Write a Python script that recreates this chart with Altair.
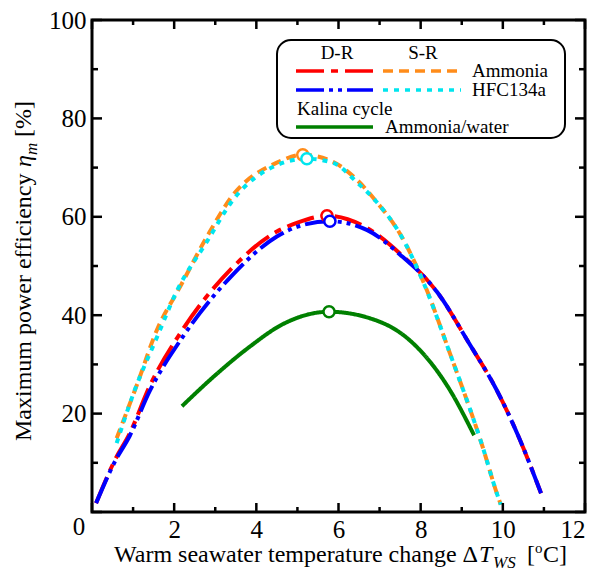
import altair as alt
import pandas as pd

# ---------------- data ----------------
dr_amm_x = [0.1, 0.56, 0.92, 1.4, 2.2, 3.4, 4.5, 5.0, 5.72, 6.7, 7.5, 8.4, 9.2, 9.85, 10.4, 10.93]
dr_amm_y = [1.8, 10.6, 16.0, 25.5, 37.0, 49.5, 57.0, 58.8, 60.2, 57.7, 52.5, 44.7, 34.0, 24.8, 15.0, 3.8]

dr_hfc_x = [0.1, 0.56, 0.92, 1.4, 2.2, 3.4, 4.5, 5.0, 5.79, 6.7, 7.5, 8.4, 9.2, 9.85, 10.4, 10.93]
dr_hfc_y = [1.8, 10.3, 15.5, 24.5, 35.5, 48.0, 56.0, 58.0, 59.1, 57.3, 52.3, 44.7, 34.0, 24.8, 15.0, 3.8]

sr_amm_x = [0.6, 1.1, 1.58, 2.14, 2.8, 3.43, 4.5, 5.13, 5.86, 6.45, 6.93, 7.5, 8.1, 8.71, 9.51, 9.85, 9.95]
sr_amm_y = [15.0, 26.0, 37.0, 45.7, 56.0, 64.4, 71.0, 72.6, 71.2, 67.5, 63.0, 56.5, 46.1, 32.3, 13.2, 3.9, 1.5]

sr_hfc_x = [0.6, 1.05, 1.58, 2.07, 2.8, 3.43, 4.5, 5.23, 5.86, 6.45, 6.93, 7.5, 8.1, 8.71, 9.51, 9.85, 9.95]
sr_hfc_y = [14.0, 25.0, 35.5, 45.0, 55.0, 63.4, 70.5, 71.8, 71.0, 67.0, 63.0, 56.5, 46.0, 32.3, 13.2, 3.9, 1.5]

kal_x = [2.19, 3.0, 3.84, 4.65, 5.77, 7.08, 7.9, 8.71, 9.3]
kal_y = [21.5, 27.8, 33.6, 38.2, 40.7, 38.4, 33.6, 24.8, 15.6]

peak_series = ["sr_amm", "sr_hfc", "dr_amm", "dr_hfc", "kal"]
peak_x = [5.13, 5.23, 5.72, 5.79, 5.77]
peak_y = [72.6, 71.8, 60.2, 59.1, 40.7]

x_major = [0, 2, 4, 6, 8, 10, 12]
x_minor = [1, 3, 5, 7, 9, 11]
y_major = [0, 20, 40, 60, 80, 100]
y_minor = [10, 30, 50, 70, 90]
x_labels = [2, 4, 6, 8, 10, 12]
y_labels = [20, 40, 60, 80, 100]

colors = {"dr_amm": "#ff0000", "dr_hfc": "#0000ff", "sr_amm": "#ff8c1a",
          "sr_hfc": "#00e5ee", "kal": "#008000"}
dashes = {"dr_amm": [28, 7, 7, 7], "dr_hfc": [28, 5, 4, 5, 4, 5],
          "sr_amm": [10, 6], "sr_hfc": [5, 6], "kal": [1, 0]}

# ---------------- layout ----------------
W, H = 493, 492
FONT = "Liberation Serif"
xs = alt.Scale(domain=[0, 12], nice=False, zero=False)
ys = alt.Scale(domain=[0, 100], nice=False, zero=False)
xaxis = alt.Axis(values=x_labels, ticks=False, domain=False, grid=False, title=None,
                 labelFont=FONT, labelFontSize=25, labelColor="black", labelPadding=5)
yaxis = alt.Axis(values=y_labels, ticks=False, domain=False, grid=False, title=None,
                 labelFont=FONT, labelFontSize=25, labelColor="black", labelPadding=6)

def X(f):
    return alt.X(f, type="quantitative", scale=xs, axis=xaxis)

def Y(f):
    return alt.Y(f, type="quantitative", scale=ys, axis=yaxis)

def series_df(name, xv, yv):
    return pd.DataFrame({"x": xv, "y": yv, "s": name})

layers = []
for name, xv, yv in [("dr_amm", dr_amm_x, dr_amm_y), ("dr_hfc", dr_hfc_x, dr_hfc_y),
                     ("sr_amm", sr_amm_x, sr_amm_y), ("sr_hfc", sr_hfc_x, sr_hfc_y),
                     ("kal", kal_x, kal_y)]:
    layers.append(
        alt.Chart(series_df(name, xv, yv)).mark_line(
            color=colors[name], strokeWidth=4, strokeDash=dashes[name],
            interpolate="monotone", strokeCap="butt", clip=True)
        .encode(x=X("x"), y=Y("y"), order="x:Q")
    )

peaks = pd.DataFrame({"x": peak_x, "y": peak_y, "s": peak_series})
for name in peak_series:
    layers.append(
        alt.Chart(peaks).transform_filter(alt.datum.s == name)
        .mark_point(shape="circle", filled=True, fill="white", stroke=colors[name],
                    strokeWidth=2.5, size=125, opacity=1)
        .encode(x=X("x"), y=Y("y"))
    )

# inward ticks on all four sides
def xticks(vals, length):
    d = pd.DataFrame({"v": vals})
    b = alt.Chart(d).mark_rule(color="black", strokeWidth=2.5).encode(
        x=X("v"), y=alt.value(H), y2=alt.value(H - length))
    t = alt.Chart(d).mark_rule(color="black", strokeWidth=2.5).encode(
        x=X("v"), y=alt.value(0), y2=alt.value(length))
    return [b, t]

def yticks(vals, length):
    d = pd.DataFrame({"v": vals})
    l = alt.Chart(d).mark_rule(color="black", strokeWidth=2.5).encode(
        y=Y("v"), x=alt.value(0), x2=alt.value(length))
    r = alt.Chart(d).mark_rule(color="black", strokeWidth=2.5).encode(
        y=Y("v"), x=alt.value(W), x2=alt.value(W - length))
    return [l, r]

layers += xticks(x_major, 9) + xticks(x_minor, 5) + yticks(y_major, 10) + yticks(y_minor, 6)

def txt(text, x, y, size=24, style="normal", align="left", angle=0, baseline="alphabetic"):
    return alt.Chart(pd.DataFrame({"t": [text]})).mark_text(
        font=FONT, fontSize=size, fontStyle=style, align=align, baseline=baseline,
        angle=angle, color="black").encode(text="t:N", x=alt.value(x), y=alt.value(y))

# origin label
layers.append(txt("0", -13, 507, size=25, baseline="middle", align="center"))

# x title pieces
bx = 542
layers += [
    txt("Warm seawater temperature change \u0394", 22, bx),
    txt("T", 387, bx, style="italic"),
    txt("WS", 401, bx + 6, size=17, style="italic"),
    txt("[", 435, bx),
    txt("o", 443, bx - 9, size=15),
    txt("C]", 451, bx),
]

# y title pieces (rotated, reading upward)
by = -61
y0 = 421
layers += [
    txt("Maximum power efficiency ", by, y0, angle=270),
    txt("\u03b7", by, y0 - 274, angle=270, style="italic"),
    txt("m", by + 6, y0 - 286, size=17, angle=270, style="italic"),
    txt("[%]", by, y0 - 304, angle=270),
]

# legend
layers.append(
    alt.Chart(pd.DataFrame({"a": [0]})).mark_rect(
        fill="white", stroke="black", strokeWidth=2, cornerRadius=14)
    .encode(x=alt.value(185), x2=alt.value(473), y=alt.value(20), y2=alt.value(118))
)

def leg_line(name, x1, x2, y):
    return alt.Chart(pd.DataFrame({"a": [0]})).mark_rule(
        color=colors[name], strokeWidth=3.5, strokeDash=dashes[name], strokeCap="butt"
    ).encode(x=alt.value(x1), x2=alt.value(x2), y=alt.value(y))

layers += [
    txt("D-R", 245, 33, size=19, align="center", baseline="middle"),
    txt("S-R", 331, 33, size=19, align="center", baseline="middle"),
    leg_line("dr_amm", 204, 281, 51), leg_line("sr_amm", 291, 369, 51),
    txt("Ammonia", 380, 51, size=19, baseline="middle"),
    leg_line("dr_hfc", 204, 281, 70), leg_line("sr_hfc", 291, 369, 70),
    txt("HFC134a", 380, 70, size=19, baseline="middle"),
    txt("Kalina cycle", 205, 89, size=19, baseline="middle"),
    leg_line("kal", 204, 281, 107),
    txt("Ammonia/water", 293, 107, size=19, baseline="middle"),
]

chart = alt.layer(*layers).properties(
    width=W, height=H,
    autosize=alt.AutoSizeParams(type="none"),
    padding={"left": 84, "top": 12, "right": 3, "bottom": 60},
).configure_view(stroke="black", strokeWidth=3)

chart.save("out.html", embed_options={"renderer": "svg", "actions": False})
